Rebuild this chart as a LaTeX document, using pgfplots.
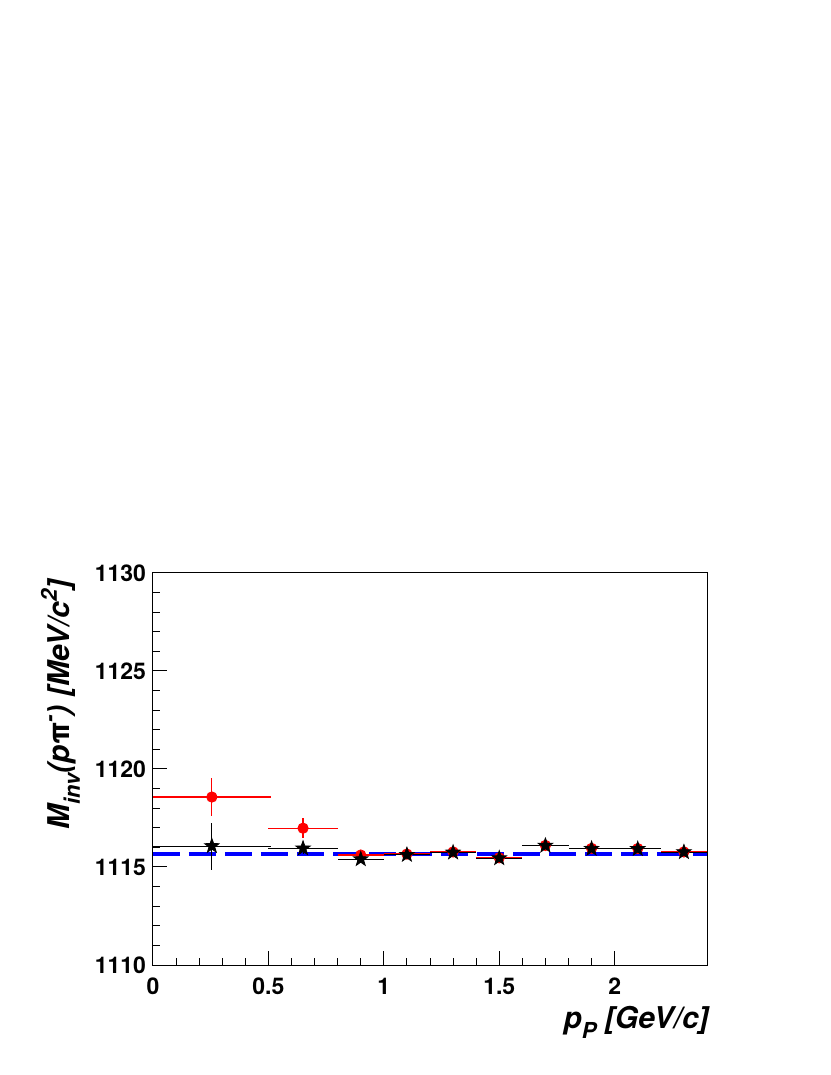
\documentclass[border=0pt]{standalone}
\usepackage{fontspec}
\setmainfont{TeX Gyre Heros}
\usepackage{pgfplots}
\pgfplotsset{compat=1.18}
\definecolor{rootRed}{RGB}{255,0,0}
\definecolor{rootBlue}{RGB}{0,0,255}

% filled five-pointed star, like ROOT marker 29
\pgfdeclareplotmark{fivestar}{%
  \pgfpathmoveto{\pgfpointpolar{90}{\pgfplotmarksize}}%
  \pgfpathlineto{\pgfpointpolar{126}{0.40\pgfplotmarksize}}%
  \pgfpathlineto{\pgfpointpolar{162}{\pgfplotmarksize}}%
  \pgfpathlineto{\pgfpointpolar{198}{0.40\pgfplotmarksize}}%
  \pgfpathlineto{\pgfpointpolar{234}{\pgfplotmarksize}}%
  \pgfpathlineto{\pgfpointpolar{270}{0.40\pgfplotmarksize}}%
  \pgfpathlineto{\pgfpointpolar{306}{\pgfplotmarksize}}%
  \pgfpathlineto{\pgfpointpolar{342}{0.40\pgfplotmarksize}}%
  \pgfpathlineto{\pgfpointpolar{18}{\pgfplotmarksize}}%
  \pgfpathlineto{\pgfpointpolar{54}{0.40\pgfplotmarksize}}%
  \pgfpathclose
  \pgfusepathqfillstroke
}
% ROOT-like sub/superscripts (set lower/higher than LaTeX's)
\newcommand{\rsub}[1]{\raisebox{-5pt}{\fontsize{11}{11}\selectfont #1}}
\newcommand{\rsup}[1]{\raisebox{6.5pt}{\fontsize{11}{11}\selectfont #1}}

\pgfplotstableread{
x     y        ex    ey
0.255 1118.57  0.255 0.98
0.65  1116.98  0.15  0.50
0.90  1115.61  0.10  0.12
1.10  1115.66  0.10  0.10
1.30  1115.77  0.10  0.10
1.50  1115.47  0.10  0.10
1.70  1116.10  0.10  0.12
1.90  1115.95  0.10  0.10
2.10  1115.94  0.10  0.10
2.30  1115.77  0.10  0.10
}\redpts

\pgfplotstableread{
x     y        ex    ey
0.255 1116.07  0.255 1.20
0.65  1115.95  0.15  0.30
0.90  1115.40  0.10  0.15
1.10  1115.62  0.10  0.10
1.30  1115.74  0.10  0.10
1.50  1115.45  0.10  0.10
1.70  1116.09  0.10  0.10
1.90  1115.93  0.10  0.10
2.10  1115.92  0.10  0.10
2.30  1115.76  0.10  0.10
}\blackpts

\begin{document}
\begin{tikzpicture}
\useasboundingbox (-76.5pt,-55pt) rectangle (338.5pt,482.5pt);
\begin{axis}[
  at={(0,0)}, anchor=south west,
  scale only axis, width=277pt, height=196pt,
  xmin=0, xmax=2.4, ymin=1110, ymax=1130,
  xtick={0,0.5,1,1.5,2}, ytick={1110,1115,1120,1125,1130},
  minor x tick num=4, minor y tick num=4,
  tick pos=left, tick align=inside,
  major tick length=7pt, minor tick length=3.5pt,
  axis line style={line width=0.5pt},
  every tick/.style={black, line width=0.5pt},
  scaled ticks=false,
  /pgf/number format/1000 sep={},
  /pgf/number format/assume math mode=true,
  ticklabel style={font=\fontsize{11.5}{13}\selectfont\bfseries},
  xticklabel style={yshift=-3pt},
  xlabel={\textit{p\rsub{P} [GeV/c]}},
  xlabel style={font=\fontsize{15}{17}\selectfont\bfseries,
    at={([xshift=5pt,yshift=-17pt]rel axis cs:1,0)}, anchor=north east},
  ylabel={\textit{M\rsub{inv}(p{\upshape π}\rsup{-}) [MeV/c\rsup{2}]}},
  ylabel style={font=\fontsize{15}{17}\selectfont\bfseries,
    at={([xshift=-33pt,yshift=1pt]rel axis cs:0,1)}, anchor=south east},
  clip=false,
]
% nominal Lambda mass
\addplot[rootBlue, line width=2pt, dash pattern=on 13.5pt off 4.5pt]
  coordinates {(0,1115.683) (2.4,1115.683)};
\addplot[rootRed, only marks, mark=*, mark size=2.6pt,
  error bars/.cd, x dir=both, y dir=both, x explicit, y explicit,
  error mark=none, error bar style={rootRed, line width=0.6pt}]
  table[x=x, y=y, x error=ex, y error=ey] {\redpts};
\addplot[black, only marks, mark=fivestar, mark size=3.8pt,
  error bars/.cd, x dir=both, y dir=both, x explicit, y explicit,
  error mark=none, error bar style={black, line width=0.5pt}]
  table[x=x, y=y, x error=ex, y error=ey] {\blackpts};
\end{axis}
\end{tikzpicture}
\end{document}
